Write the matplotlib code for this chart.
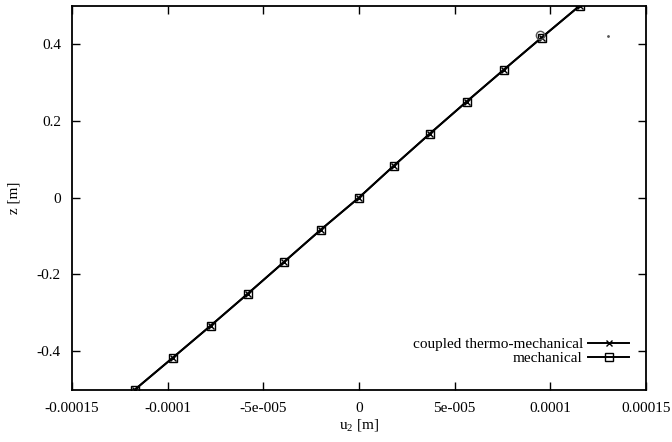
import matplotlib.pyplot as plt
import numpy as np

plt.rcParams['font.family'] = ['Liberation Serif', 'DejaVu Serif']
plt.rcParams['font.size'] = 11
plt.rcParams['mathtext.fontset'] = 'custom'
plt.rcParams['mathtext.rm'] = 'Liberation Serif'

# z positions through the thickness
z = [-0.5, -0.4167, -0.3333, -0.25, -0.1667, -0.0833, 0.0,
     0.0833, 0.1667, 0.25, 0.3333, 0.4167, 0.5]

# displacement u2
u2_coupled = [-1.172e-4, -0.973e-4, -0.775e-4, -0.581e-4, -0.390e-4, -0.199e-4, 0.0,
              0.183e-4, 0.371e-4, 0.563e-4, 0.758e-4, 0.955e-4, 1.155e-4]
u2_mech = [-1.172e-4, -0.973e-4, -0.775e-4, -0.581e-4, -0.390e-4, -0.199e-4, 0.0,
           0.183e-4, 0.371e-4, 0.563e-4, 0.758e-4, 0.955e-4, 1.155e-4]

# stray points
extra_u2 = [0.946e-4]
extra_z = [0.423]
dot_u2 = [1.30e-4]
dot_z = [0.421]

xticks = [-0.00015, -0.0001, -0.00005, 0, 0.00005, 0.0001, 0.00015]
xticklabels = ["-0.00015", "-0.0001", "-5e-005", "0", "5e-005", "0.0001", "0.00015"]
yticks = [-0.4, -0.2, 0, 0.2, 0.4]
yticklabels = ["-0.4", "-0.2", "0", "0.2", "0.4"]

fig = plt.figure(figsize=(6.72, 4.42), dpi=100)
ax = fig.add_axes([72 / 672, 1 - 389.7 / 442, (646 - 72) / 672, (389.7 - 5.5) / 442])

l1, = ax.plot(u2_coupled, z, color='black', lw=1.4, marker='x', ms=5, mew=1.0)
l2, = ax.plot(u2_mech, z, color='black', lw=1.4, marker='s', ms=6, mfc='none', mew=1.0)
ax.plot(extra_u2, extra_z, ls='none', marker='o', ms=6, mfc='none', mec='#555555', mew=1.0)
ax.plot(dot_u2, dot_z, ls='none', marker='.', ms=2, color='#555555')

ax.set_xlim(-0.00015, 0.00015)
ax.set_ylim(-0.5, 0.5)
ax.set_xticks(xticks)
ax.set_xticklabels(xticklabels)
ax.set_yticks(yticks)
ax.set_yticklabels(yticklabels)
ax.tick_params(axis='x', direction='in', length=6, width=1, top=True, pad=9)
ax.tick_params(axis='y', direction='in', length=6, width=1, right=True, pad=8)
for s in ax.spines.values():
    s.set_linewidth(1.3)

ax.set_xlabel(r"u$_2$ [m]", labelpad=2)
ax.set_ylabel("z [m]", labelpad=12)

leg = ax.legend([l1, l2], ["coupled thermo-mechanical", "mechanical"],
                loc='lower right', bbox_to_anchor=(0.987, 0.04), frameon=False,
                markerfirst=False, handlelength=2.7, handletextpad=0.35,
                labelspacing=0.0, borderaxespad=0.2)
for t in leg.get_texts():
    t.set_ha('right')
leg._legend_box.align = 'right'

fig.savefig("out.png", dpi=100)
